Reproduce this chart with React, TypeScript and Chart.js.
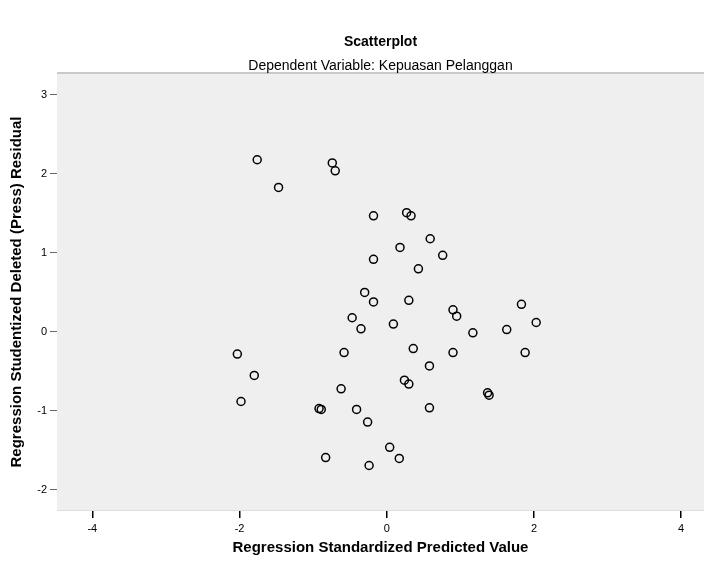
import React, { useEffect, useRef } from "react";
import { Chart, registerables } from "chart.js";

Chart.register(...registerables);

const TITLE = "Scatterplot";
const SUBTITLE = "Dependent Variable: Kepuasan Pelanggan";
const X_TITLE = "Regression Standardized Predicted Value";
const Y_TITLE = "Regression Studentized Deleted (Press) Residual";

const xTicks = [-4, -2, 0, 2, 4];
const yTicks = [-2, -1, 0, 1, 2, 3];

const predicted = [
  -1.76, -1.47, -0.74, -0.70, -0.18, 0.27, 0.33, 0.59, 0.18, 0.76,
  -0.18, 0.43, -0.30, -0.18, 0.30, 0.90, 0.95, 1.83, 2.03, 1.63,
  1.17, -0.47, -0.35, 0.09, -2.03, -1.80, -1.98, -0.58, 0.36, 0.90,
  1.88, 0.58, -0.62, 0.24, 0.30, 1.37, 1.39, -0.92, -0.89, -0.41,
  0.58, -0.26, 0.04, 0.17, -0.83, -0.24,
];
const residual = [
  2.18, 1.83, 2.14, 2.04, 1.47, 1.51, 1.47, 1.18, 1.07, 0.97,
  0.92, 0.80, 0.50, 0.38, 0.40, 0.28, 0.20, 0.35, 0.12, 0.03,
  -0.01, 0.18, 0.04, 0.10, -0.28, -0.55, -0.88, -0.26, -0.21, -0.26,
  -0.26, -0.43, -0.72, -0.61, -0.66, -0.77, -0.80, -0.97, -0.98, -0.98,
  -0.96, -1.14, -1.46, -1.60, -1.59, -1.69,
];

const FONT = "'Liberation Sans', Arial, sans-serif";

const decor = {
  id: "decor",
  beforeDraw(chart: any) {
    const { ctx, chartArea: a } = chart;
    ctx.save();
    ctx.fillStyle = "#ffffff";
    ctx.fillRect(0, 0, chart.width, chart.height);
    ctx.fillStyle = "#efefef";
    ctx.fillRect(a.left, a.top, a.right - a.left, a.bottom - a.top);
    ctx.fillStyle = "#c9c9c9";
    ctx.fillRect(a.left, a.top - 1, a.right - a.left, 2);
    ctx.fillStyle = "#dedede";
    ctx.fillRect(a.left, a.bottom - 1, a.right - a.left, 1);
    ctx.restore();
  },
  afterDraw(chart: any) {
    const { ctx, chartArea: a } = chart;
    const cx = (a.left + a.right) / 2;
    ctx.save();
    ctx.fillStyle = "#000";
    ctx.textAlign = "center";
    ctx.textBaseline = "middle";
    ctx.font = `bold 14px ${FONT}`;
    ctx.fillText(TITLE, cx, 42);
    ctx.font = `14px ${FONT}`;
    ctx.fillText(SUBTITLE, cx, 66);
    ctx.font = `bold 15px ${FONT}`;
    ctx.fillText(X_TITLE, cx, 548);
    ctx.translate(17, (a.top + a.bottom) / 2);
    ctx.rotate(-Math.PI / 2);
    ctx.fillText(Y_TITLE, 0, 0);
    ctx.restore();
  },
};

export default function App() {
  const ref = useRef<HTMLCanvasElement>(null);
  useEffect(() => {
    document.body.style.margin = "0";
    const data = predicted.map((x, i) => ({ x, y: residual[i] }));
    const chart = new Chart(ref.current as HTMLCanvasElement, {
      type: "scatter",
      data: {
        datasets: [
          {
            data,
            pointStyle: "circle",
            pointRadius: 4,
            pointBorderWidth: 1.5,
            pointBorderColor: "#000",
            pointBackgroundColor: "rgba(0,0,0,0)",
          },
        ],
      },
      plugins: [decor],
      options: {
        responsive: false,
        animation: false,
        layout: { autoPadding: false, padding: { top: 73, right: 0, left: 0, bottom: 0 } },
        plugins: {
          legend: { display: false },
          tooltip: { enabled: false },
        },
        scales: {
          x: {
            type: "linear",
            min: -4.48,
            max: 4.31,
            afterBuildTicks: (s: any) => {
              s.ticks = xTicks.map((v) => ({ value: v }));
            },
            afterFit: (s: any) => {
              s.height = 53;
              s.paddingLeft = 0;
              s.paddingRight = 0;
            },
            border: { display: false },
            grid: {
              drawOnChartArea: false,
              drawTicks: true,
              tickLength: 7,
              color: "#000",
              lineWidth: 1.5,
            },
            ticks: {
              color: "#000",
              font: { family: FONT, size: 11 },
              padding: 4,
              maxRotation: 0,
              callback: (v: any) => String(v),
            },
          },
          y: {
            type: "linear",
            min: -2.266,
            max: 3.278,
            afterBuildTicks: (s: any) => {
              s.ticks = yTicks.map((v) => ({ value: v }));
            },
            afterFit: (s: any) => {
              s.width = 57;
              s.paddingTop = 0;
              s.paddingBottom = 0;
            },
            border: { display: false },
            grid: {
              drawOnChartArea: false,
              drawTicks: true,
              tickLength: 7,
              color: "#666",
              lineWidth: 1,
            },
            ticks: {
              color: "#000",
              font: { family: FONT, size: 11 },
              padding: 3,
              callback: (v: any) => String(v),
            },
          },
        },
      },
    });
    return () => chart.destroy();
  }, []);
  return (
    <div style={{ position: "absolute", left: 0, top: 0, width: 704, height: 564 }}>
      <canvas ref={ref} width={704} height={564} />
    </div>
  );
}
